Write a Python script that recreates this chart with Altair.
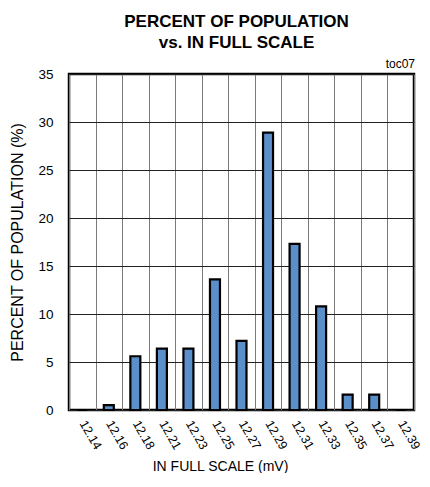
import altair as alt
import pandas as pd

categories = ["12.14", "12.16", "12.18", "12.21", "12.23", "12.25", "12.27",
              "12.29", "12.31", "12.33", "12.35", "12.37", "12.39"]
percent = [0, 0.5, 5.6, 6.4, 6.4, 13.6, 7.2, 28.9, 17.3, 10.8, 1.6, 1.6, 0]
y_ticks = [0, 5, 10, 15, 20, 25, 30, 35]
title_lines = ["PERCENT OF POPULATION", "vs. IN FULL SCALE"]
note = ["toc07"]

FONT = "Liberation Sans, Arial, Helvetica, sans-serif"
W, H = 345, 336

df = pd.DataFrame({"scale": categories, "pct": percent})

x_axis = alt.Axis(
    title="IN FULL SCALE (mV)", labelAngle=60,
    labelAlign="left", labelBaseline="middle",
    labelPadding=11, labelFontSize=12.5, labelFont=FONT,
    labelColor="black", ticks=False, domain=False,
    grid=True, gridColor="#7a7a7a", gridWidth=1,
    tickBand="extent",
    titleFont=FONT, titleFontSize=14, titleFontWeight="normal",
    titleColor="black", titleX=151, titleY=60,
    titleAlign="center", titleBaseline="alphabetic",
)

y_axis = alt.Axis(
    title="PERCENT OF POPULATION (%)", values=y_ticks,
    labelFontSize=13.5, labelFont=FONT, labelColor="black",
    labelPadding=16, ticks=False, domain=False,
    grid=True, gridColor="#222222", gridWidth=1,
    titleFont=FONT, titleFontSize=16, titleFontWeight="normal",
    titleColor="black", titleX=-52, titleY=H / 2,
    titleBaseline="middle", titleAlign="center",
)

bars = alt.Chart(df).mark_bar(
    size=10, color="#5A8FC9", stroke="black", strokeWidth=2.2
).encode(
    x=alt.X("scale:N", sort=categories,
            scale=alt.Scale(paddingInner=0, paddingOuter=0),
            axis=x_axis),
    y=alt.Y("pct:Q", scale=alt.Scale(domain=[0, 35], nice=False), axis=y_axis),
)

note_df = pd.DataFrame({"t": note})
note_text = alt.Chart(note_df).mark_text(
    align="right", baseline="alphabetic", fontSize=12, font=FONT, color="black"
).encode(x=alt.value(W + 1), y=alt.value(-6), text="t:N")

chart = alt.layer(bars, note_text).properties(
    width=W, height=H,
    autosize=alt.AutoSizeParams(type="none"),
    padding={"left": 61, "top": 66, "right": 8, "bottom": 63},
    title=alt.TitleParams(text=title_lines, font=FONT, fontSize=17,
                          fontWeight="bold", lineHeight=21, anchor="middle",
                          color="black", offset=6, dx=-5),
).configure_view(stroke="black", strokeWidth=2.5)

chart.save("out.html", embed_options={"renderer": "svg", "actions": False})
